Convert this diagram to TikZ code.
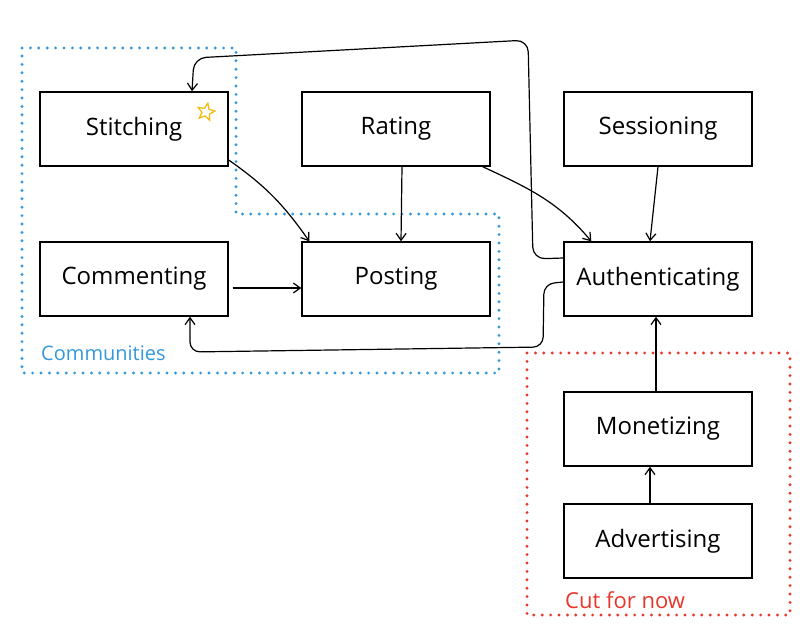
\documentclass[tikz,border=0pt]{standalone}
\usepackage{fontspec}
\setmainfont{Open Sans}
\usetikzlibrary{arrows.meta,shapes.geometric}
\definecolor{commblue}{RGB}{52,152,219}
\definecolor{cutred}{RGB}{233,55,43}
\definecolor{staryellow}{RGB}{242,190,20}
\tikzset{
  box/.style={draw=black, line width=1.4pt, minimum width=188pt, minimum height=74pt, inner sep=0pt,
    font=\fontsize{24}{28}\selectfont},
  conn/.style={draw=black, line width=1.2pt, -{Straight Barb[length=7pt,width=10pt]}},
  dotline/.style={line width=3.2pt, line cap=round, dash pattern=on 0pt off 8.4pt},
}
\begin{document}
\begin{tikzpicture}[x=1pt,y=-1pt]
\useasboundingbox[fill=white] (0,0) rectangle (802,636);

% group outlines
\draw[dotline, commblue] (22,48) -- (236,48) -- (236,214) -- (499,214) -- (499,373) -- (22,373) -- cycle;
\draw[dotline, cutred] (527,353) rectangle (790,615);

% boxes
\node[box] (stitch) at (134,129) {Stitching};
\node[box] (rating) at (396,129) {Rating};
\node[box] (session) at (658,129) {Sessioning};
\node[box] (comment) at (134,279) {Commenting};
\node[box] (posting) at (396,279) {Posting};
\node[box] (auth) at (658,279) {Authenticating};
\node[box] (monet) at (658,429) {Monetizing};
\node[box] (advert) at (658,541) {Advertising};

% star
\node[star, star points=5, star point ratio=2.2, draw=staryellow, line width=1.3pt,
      minimum size=18pt, inner sep=0pt, rotate=-12] (star) at (206,112) {};

% labels
\node[anchor=west, text=commblue, font=\fontsize{20}{24}\selectfont, inner sep=0pt] (lcomm) at (41,353) {Communities};
\node[anchor=west, text=cutred, font=\fontsize{22}{26}\selectfont, inner sep=0pt] (lcut) at (565,600) {Cut for now};

% connectors
\draw[conn, rounded corners=12pt] ([yshift=21pt]auth.west) -- (533,259) -- (528,40) -- (194,58) -- ([xshift=58pt]stitch.north);
\draw[conn] ([yshift=-31pt]stitch.east) to[out=-35,in=125] ([xshift=8pt]posting.north west);
\draw[conn] ([xshift=6pt]rating.south) -- ([xshift=5pt]posting.north);
\draw[conn] ([xshift=-8pt]rating.south east) to[out=-25,in=130] ([xshift=28pt]auth.north west);
\draw[conn] (session.south) -- ([xshift=-8pt]auth.north);
\draw[conn] ([xshift=4pt,yshift=-9pt]comment.east) -- ([yshift=-9pt]posting.west);
\draw[conn, rounded corners=10pt] ([yshift=-3pt]auth.west) -- (544,284) -- (543,347) -- (190,352) -- ([xshift=56pt]comment.south);
\draw[conn] ([xshift=-2pt]monet.north) -- ([xshift=-2pt]auth.south);
\draw[conn] ([xshift=-8pt]advert.north) -- ([xshift=-8pt]monet.south);
\end{tikzpicture}
\end{document}
